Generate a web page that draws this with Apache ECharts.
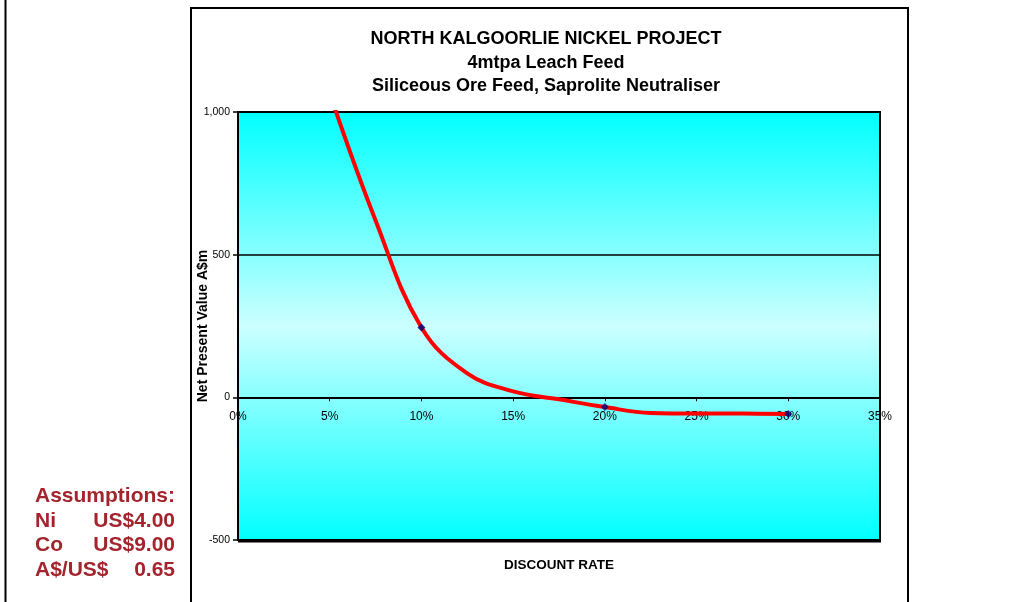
<!DOCTYPE html>
<html><head><meta charset="utf-8">
<script src="https://cdn.jsdelivr.net/npm/echarts@6/dist/echarts.min.js"></script>
<style>html,body{margin:0;padding:0;background:#fff}#c{width:1029px;height:602px}</style>
</head><body><div id="c"></div>
<script>
// Discount rate (fraction) and NPV A$m
const rates = [0.05, 0.075, 0.10, 0.125, 0.15, 0.175, 0.20, 0.225, 0.25, 0.275, 0.30];
const npv   = [1065, 620, 245, 84, 21, -7, -34, -55, -57, -57, -58];
// Marked points
const markRates = [0.10, 0.20, 0.30];
const markNpv   = [245, -34, -58];
const xTicks = ['0%','5%','10%','15%','20%','25%','30%','35%'];
const titleLines = ['NORTH KALGOORLIE NICKEL PROJECT', '4mtpa Leach Feed', 'Siliceous Ore Feed, Saprolite Neutraliser'];
const assumptions = [['Assumptions:', ''], ['Ni', 'US$4.00'], ['Co', 'US$9.00'], ['A$/US$', '0.65']];

const FONT = '"Liberation Sans", Arial, sans-serif';
const chart = echarts.init(document.getElementById('c'));
const red = '#A3242C';
const graphics = [
  {type:'line', shape:{x1:5.5,y1:0,x2:5.5,y2:602}, style:{stroke:'#000',lineWidth:2}, z:0},
  {type:'polyline', shape:{points:[[191,602],[191,8],[908,8],[908,602]]}, style:{stroke:'#000',lineWidth:2,fill:null}, z:0},
  {type:'line', shape:{x1:238,y1:541,x2:881,y2:541}, style:{stroke:'#000',lineWidth:3}, z:10}
];
const ys = [496, 521, 545, 570];
assumptions.forEach((a,i)=>{
  graphics.push({type:'text', x:35, y:ys[i], style:{text:a[0], font:'bold 21px '+FONT, fill:red, textVerticalAlign:'middle'}});
  if (a[1]) graphics.push({type:'text', x:175, y:ys[i], style:{text:a[1], font:'bold 21px '+FONT, fill:red, textAlign:'right', textVerticalAlign:'middle'}});
});
const titleTops = [25, 49, 72];
chart.setOption({
  animation:false,
  title: titleLines.map((t,i)=>({text:t, left:541, top:titleTops[i], textAlign:'center',
    textStyle:{fontFamily:FONT, fontWeight:'bold', fontSize:18, color:'#000'}})),
  grid:{left:238, right:149, top:112, bottom:62, outerBoundsMode:'none', containLabel:false,
    show:true, borderColor:'#000', borderWidth:2,
    backgroundColor:new echarts.graphic.LinearGradient(0,0,0,1,[
      {offset:0,color:'#00FFFF'},{offset:0.5,color:'#CCFFFF'},{offset:1,color:'#00FFFF'}])},
  xAxis:{type:'value', min:0, max:0.35, interval:0.05,
    name:'DISCOUNT RATE', nameLocation:'middle', nameGap:18, nameMoveOverlap:false,
    nameTextStyle:{fontFamily:FONT, fontWeight:'bold', fontSize:13.5, color:'#000'},
    axisLine:{onZero:true, lineStyle:{color:'#000', width:2}},
    axisTick:{show:true, length:4, lineStyle:{color:'#000', width:1}},
    axisLabel:{fontFamily:FONT, fontSize:12, color:'#000', margin:-129,
      formatter:(v)=>xTicks[Math.round(v/0.05)]},
    splitLine:{show:false}},
  yAxis:{type:'value', min:-500, max:1000, interval:500,
    name:'Net Present Value A$m', nameLocation:'middle', nameGap:28, nameRotate:90, nameMoveOverlap:false,
    nameTextStyle:{fontFamily:FONT, fontWeight:'bold', fontSize:14, color:'#000'},
    axisLine:{show:true, lineStyle:{color:'#000', width:2}},
    axisTick:{show:true, length:5, lineStyle:{color:'#000', width:1.5}},
    axisLabel:{fontFamily:FONT, fontSize:10.5, color:'#000', margin:8,
      formatter:(v)=>v.toLocaleString('en-US')},
    splitLine:{show:true, lineStyle:{color:'#000', width:1.5}}},
  graphic: graphics,
  series:[
    {type:'line', data:rates.map((r,i)=>[r,npv[i]]), smooth:0.4, showSymbol:false, symbol:'none',
      lineStyle:{color:'#FF0000', width:4}, clip:true, z:3},
    {type:'scatter', data:markRates.map((r,i)=>[r,markNpv[i]]), symbol:'diamond', symbolSize:8,
      itemStyle:{color:'#000080'}, z:4}
  ]
});
</script></body></html>
